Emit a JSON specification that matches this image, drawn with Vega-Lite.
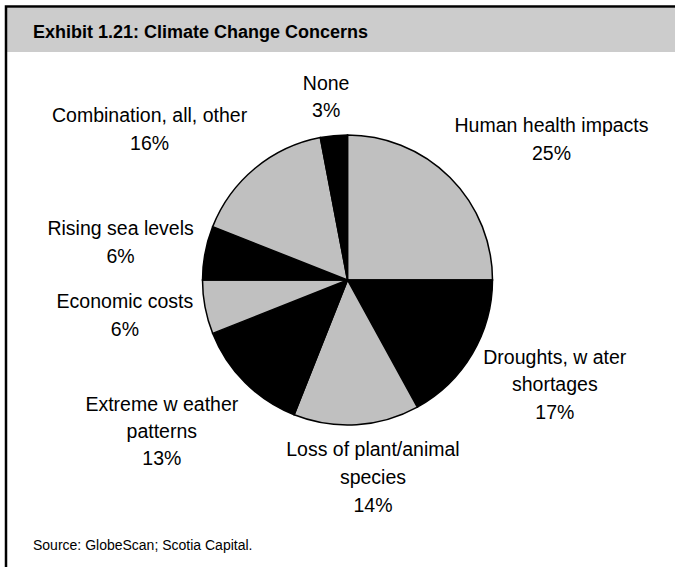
{
  "$schema": "https://vega.github.io/schema/vega-lite/v6.json",
  "width": 655,
  "height": 548,
  "autosize": {"type": "none"},
  "padding": {"left": 20, "top": 6, "right": 0, "bottom": 13},
  "background": "white",
  "config": {"view": {"stroke": null}, "font": "Liberation Sans", "text": {"font": "Liberation Sans"}},
  "layer": [
    {
      "data": {"values": [{"title": "Exhibit 1.21: Climate Change Concerns", "source": "Source: GlobeScan; Scotia Capital."}]},
      "layer": [
        {"mark": {"type": "rect", "fill": "#cccccc"}, "encoding": {"x": {"value": -13}, "x2": {"value": 655}, "y": {"value": 2}, "y2": {"value": 46}}},
        {"mark": {"type": "rect", "fill": null, "stroke": "#000000", "strokeWidth": 2.5}, "encoding": {"x": {"value": -14}, "x2": {"value": 690}, "y": {"value": 0.5}, "y2": {"value": 600}}},
        {"mark": {"type": "text", "align": "left", "baseline": "alphabetic", "fontWeight": "bold", "fontSize": 18, "color": "#000000"}, "encoding": {"x": {"value": 13}, "y": {"value": 31.5}, "text": {"field": "title"}}},
        {"mark": {"type": "text", "align": "left", "baseline": "alphabetic", "fontSize": 14, "color": "#000000"}, "encoding": {"x": {"value": 13}, "y": {"value": 544}, "text": {"field": "source"}}}
      ]
    },
    {
      "data": {"values": [
        {"concern": "Human health impacts", "label": "Human health impacts", "share": 25},
        {"concern": "Droughts, water shortages", "label": "Droughts, w ater|shortages", "share": 17},
        {"concern": "Loss of plant/animal species", "label": "Loss of plant/animal|species", "share": 14},
        {"concern": "Extreme weather patterns", "label": "Extreme w eather|patterns", "share": 13},
        {"concern": "Economic costs", "label": "Economic costs", "share": 6},
        {"concern": "Rising sea levels", "label": "Rising sea levels", "share": 6},
        {"concern": "Combination, all, other", "label": "Combination, all, other", "share": 16},
        {"concern": "None", "label": "None", "share": 3}
      ]},
      "transform": [
        {"window": [{"op": "row_number", "as": "idx"}]},
        {"stack": "share", "groupby": [], "sort": [{"field": "idx", "order": "ascending"}], "as": ["t0", "t1"]},
        {"calculate": "(datum.t0 + datum.t1) / 2", "as": "mid"},
        {"calculate": "datum.label + '|' + datum.share + '%'", "as": "text"}
      ],
      "layer": [
        {
          "mark": {"type": "arc", "outerRadius": 145, "stroke": "#000000", "strokeWidth": 1.5},
          "encoding": {
            "theta": {"field": "t0", "type": "quantitative", "scale": {"domain": [0, 100]}},
            "theta2": {"field": "t1"},
            "color": {"field": "concern", "type": "nominal", "legend": null,
              "scale": {"domain": ["Human health impacts", "Droughts, water shortages", "Loss of plant/animal species", "Extreme weather patterns", "Economic costs", "Rising sea levels", "Combination, all, other", "None"],
                        "range": ["#c0c0c0", "#000000", "#c0c0c0", "#000000", "#c0c0c0", "#000000", "#c0c0c0", "#000000"]}}
          }
        },
        {"transform": [{"filter": "datum.concern === 'Human health impacts'"}], "mark": {"type": "text", "radius": 198, "dx": 64, "dy": -14, "fontSize": 19.5, "lineBreak": "|", "lineHeight": 28, "align": "center", "baseline": "middle", "color": "#000000"}, "encoding": {"theta": {"field": "mid", "type": "quantitative"}, "text": {"field": "text"}}},
        {"transform": [{"filter": "datum.concern === 'Droughts, water shortages'"}], "mark": {"type": "text", "radius": 206, "dx": 30, "dy": -27, "fontSize": 19.5, "lineBreak": "|", "lineHeight": 27.5, "align": "center", "baseline": "middle", "color": "#000000"}, "encoding": {"theta": {"field": "mid", "type": "quantitative"}, "text": {"field": "text"}}},
        {"transform": [{"filter": "datum.concern === 'Loss of plant/animal species'"}], "mark": {"type": "text", "radius": 198.7, "dx": 13, "dy": -28, "fontSize": 19.5, "lineBreak": "|", "lineHeight": 28, "align": "center", "baseline": "middle", "color": "#000000"}, "encoding": {"theta": {"field": "mid", "type": "quantitative"}, "text": {"field": "text"}}},
        {"transform": [{"filter": "datum.concern === 'Extreme weather patterns'"}], "mark": {"type": "text", "radius": 214.5, "dx": -34, "dy": -27, "fontSize": 19.5, "lineBreak": "|", "lineHeight": 27, "align": "center", "baseline": "middle", "color": "#000000"}, "encoding": {"theta": {"field": "mid", "type": "quantitative"}, "text": {"field": "text"}}},
        {"transform": [{"filter": "datum.concern === 'Economic costs'"}], "mark": {"type": "text", "radius": 191, "dx": -35, "dy": -14, "fontSize": 19.5, "lineBreak": "|", "lineHeight": 28, "align": "center", "baseline": "middle", "color": "#000000"}, "encoding": {"theta": {"field": "mid", "type": "quantitative"}, "text": {"field": "text"}}},
        {"transform": [{"filter": "datum.concern === 'Rising sea levels'"}], "mark": {"type": "text", "radius": 197.4, "dx": -33, "dy": -14, "fontSize": 19.5, "lineBreak": "|", "lineHeight": 28, "align": "center", "baseline": "middle", "color": "#000000"}, "encoding": {"theta": {"field": "mid", "type": "quantitative"}, "text": {"field": "text"}}},
        {"transform": [{"filter": "datum.concern === 'Combination, all, other'"}], "mark": {"type": "text", "radius": 196, "dx": -73, "dy": -13, "fontSize": 19.5, "lineBreak": "|", "lineHeight": 28, "align": "center", "baseline": "middle", "color": "#000000"}, "encoding": {"theta": {"field": "mid", "type": "quantitative"}, "text": {"field": "text"}}},
        {"transform": [{"filter": "datum.concern === 'None'"}], "mark": {"type": "text", "radius": 184.3, "dx": -4, "dy": -13, "fontSize": 19.5, "lineBreak": "|", "lineHeight": 27, "align": "center", "baseline": "middle", "color": "#000000"}, "encoding": {"theta": {"field": "mid", "type": "quantitative"}, "text": {"field": "text"}}}
      ]
    }
  ]
}
